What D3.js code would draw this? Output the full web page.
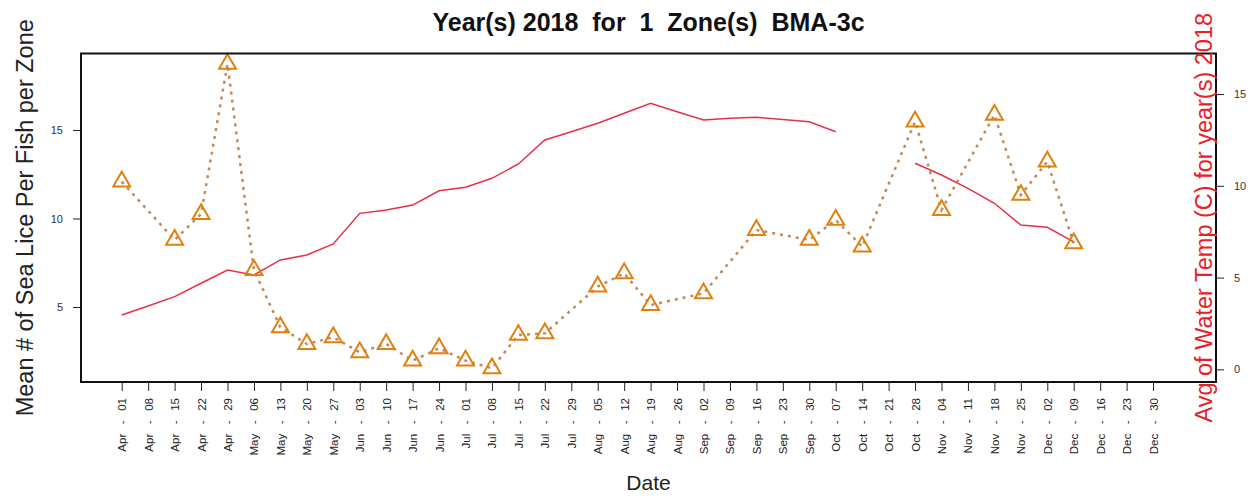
<!DOCTYPE html>
<html lang="en">
    <head>
        <meta charset="utf-8">
        <title>Sea lice BMA-3c 2018</title>
        <script type="text/javascript" src="https://d3js.org/d3.v7.min.js"></script>
        <style type="text/css">
            body { margin: 0; background: #ffffff; }
            svg { font-family: "Liberation Sans", Arial, sans-serif; }
            .axis path { display: none; }
            .axis line { stroke: #222; stroke-width: 1; }
            .axis text { font-size: 11px; fill: #333; }
            .xaxis text { font-size: 11.5px; fill: #222; }
        </style>
    </head>
    <body>
        <script type="text/javascript">

            // weekly tick labels, Apr 01 .. Dec 30
            var weeks = ["Apr - 01", "Apr - 08", "Apr - 15", "Apr - 22", "Apr - 29",
                "May - 06", "May - 13", "May - 20", "May - 27",
                "Jun - 03", "Jun - 10", "Jun - 17", "Jun - 24",
                "Jul - 01", "Jul - 08", "Jul - 15", "Jul - 22", "Jul - 29",
                "Aug - 05", "Aug - 12", "Aug - 19", "Aug - 26",
                "Sep - 02", "Sep - 09", "Sep - 16", "Sep - 23", "Sep - 30",
                "Oct - 07", "Oct - 14", "Oct - 21", "Oct - 28",
                "Nov - 04", "Nov - 11", "Nov - 18", "Nov - 25",
                "Dec - 02", "Dec - 09", "Dec - 16", "Dec - 23", "Dec - 30"];

            // mean lice per fish (left axis), null = no sample
            var lice = [12.08, null, 8.79, 10.25, 18.73,
                7.09, 3.85, 2.91, 3.29,
                2.44, 2.91, 1.97, 2.67,
                1.97, 1.54, 3.42, 3.51, null,
                6.15, 6.9, 5.11, null,
                5.77, null, 9.35, null, 8.79,
                9.92, 8.41, null, 15.47,
                10.48, null, 15.85, 11.33,
                13.21, 8.6, null, null, null];

            // average water temperature (right axis)
            var temp = [2.96, 3.45, 3.96, 4.69, 5.41,
                5.14, 5.96, 6.23, 6.83,
                8.5, 8.68, 8.95, 9.73,
                9.92, 10.41, 11.19, 12.5, 12.95,
                13.41, 13.95, 14.5, 14.04,
                13.59, 13.68, 13.73, 13.62, 13.49,
                12.95, null, null, 11.23,
                10.59, 9.86, 9.05, 7.86,
                7.74, 6.95, null, null, null];

            var liceTicks = [5, 10, 15];
            var tempTicks = [0, 5, 10, 15];

            var w = 1252, h = 496;
            var box = {left: 81, right: 1216, top: 53.5, bottom: 382};

            var svg = d3.select("body")
                        .append("svg")
                        .attr("width", w)
                        .attr("height", h);

            var xscale = d3.scaleLinear()
                   .domain([-1.54, 41.38])
                   .range([box.left, box.right]);

            var yscale = d3.scaleLinear()
                   .domain([0.763, 19.32])
                   .range([box.bottom, box.top]);

            var y2scale = d3.scaleLinear()
                   .domain([-0.69, 17.21])
                   .range([box.bottom, box.top]);

            // axes
            var x_axis = d3.axisBottom(xscale)
                   .tickValues(d3.range(weeks.length))
                   .tickSize(9)
                   .tickFormat(function(d) { return weeks[d]; });

            var xAppend = svg.append("g")
                    .attr("class", "axis xaxis")
                    .attr("transform", "translate(0," + box.bottom + ")")
                    .call(x_axis);

            xAppend.selectAll("text")
                    .style("white-space", "pre")
                    .text(function(d) { return weeks[d].replace(" - ", "   -   "); })
                    .attr("text-anchor", "end")
                    .attr("transform", "rotate(-90)")
                    .attr("x", -16)
                    .attr("y", 0)
                    .attr("dy", "0.35em");

            svg.append("g")
                    .attr("class", "axis")
                    .attr("transform", "translate(" + box.left + ",0)")
                    .call(d3.axisLeft(yscale).tickValues(liceTicks).tickSize(8).tickPadding(10));

            svg.append("g")
                    .attr("class", "axis")
                    .attr("transform", "translate(" + box.right + ",0)")
                    .call(d3.axisRight(y2scale).tickValues(tempTicks).tickSize(8).tickPadding(10));

            // temperature line (breaks where no reading)
            var tempLine = d3.line()
                    .defined(function(d) { return d !== null; })
                    .x(function(d, i) { return xscale(i); })
                    .y(function(d) { return y2scale(d); });

            svg.append("path")
                    .datum(temp)
                    .attr("d", tempLine)
                    .attr("fill", "none")
                    .attr("stroke", "#e5304a")
                    .attr("stroke-width", 1.5);

            // lice: dotted line joining sampled weeks + triangles
            var licePts = lice.map(function(d, i) { return {i: i, v: d}; })
                    .filter(function(d) { return d.v !== null; });

            var liceLine = d3.line()
                    .x(function(d) { return xscale(d.i); })
                    .y(function(d) { return yscale(d.v); });

            svg.append("path")
                    .datum(licePts)
                    .attr("d", liceLine)
                    .attr("fill", "none")
                    .attr("stroke", "#c4895a")
                    .attr("stroke-width", 2.5)
                    .attr("stroke-dasharray", "3,5");

            var tri = d3.symbol().type(d3.symbolTriangle).size(125);

            svg.selectAll(".tri")
                    .data(licePts)
                    .enter()
                    .append("path")
                    .attr("class", "tri")
                    .attr("d", tri)
                    .attr("transform", function(d) {
                        return "translate(" + xscale(d.i) + "," + yscale(d.v) + ")";
                    })
                    .attr("fill", "none")
                    .attr("stroke", "#e0800f")
                    .attr("stroke-width", 2);

            // plot frame
            svg.append("rect")
                    .attr("x", box.left)
                    .attr("y", box.top)
                    .attr("width", box.right - box.left)
                    .attr("height", box.bottom - box.top)
                    .attr("fill", "none")
                    .attr("stroke", "#111")
                    .attr("stroke-width", 2);

            // titles
            svg.append("text")
                    .attr("x", (box.left + box.right) / 2)
                    .attr("y", 31)
                    .attr("text-anchor", "middle")
                    .style("white-space", "pre")
                    .style("font-weight", "bold")
                    .style("font-size", "25px")
                    .attr("fill", "#111")
                    .text("Year(s) 2018  for  1  Zone(s)  BMA-3c");

            svg.append("text")
                    .attr("x", (box.left + box.right) / 2)
                    .attr("y", 490)
                    .attr("text-anchor", "middle")
                    .style("font-size", "21px")
                    .attr("fill", "#222")
                    .text("Date");

            svg.append("text")
                    .attr("transform", "translate(33," + (box.top + box.bottom) / 2 + ")rotate(-90)")
                    .attr("text-anchor", "middle")
                    .style("font-size", "23.5px")
                    .attr("fill", "#222")
                    .text("Mean # of Sea Lice Per Fish per Zone");

            svg.append("text")
                    .attr("transform", "translate(1212," + (box.top + box.bottom) / 2 + ")rotate(-90)")
                    .attr("text-anchor", "middle")
                    .style("font-size", "23.5px")
                    .attr("fill", "#e8202a")
                    .text("Avg of Water Temp (C) for year(s) 2018");

        </script>
    </body>
</html>
